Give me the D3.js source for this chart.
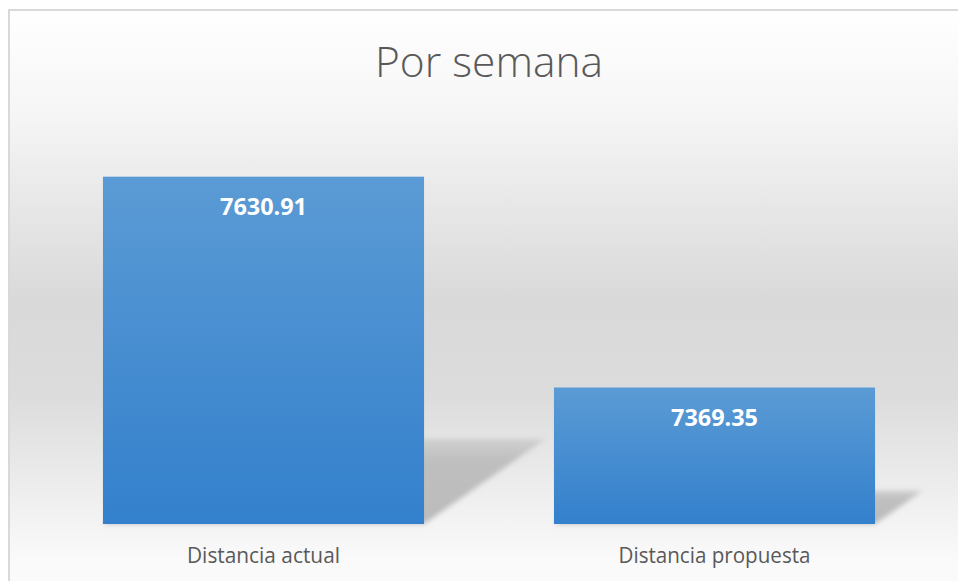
<!DOCTYPE html>
<html>
<head>
<meta charset="utf-8">
<script src="https://cdn.jsdelivr.net/npm/d3@7"></script>
<style>
  html, body { margin: 0; padding: 0; background: #fff; }
  text { font-family: "Open Sans", "Noto Sans", sans-serif; }
</style>
</head>
<body>
<div id="chart"></div>
<script>
const categories = ["Distancia actual", "Distancia propuesta"];
const values = [7630.91, 7369.35];
const yDomain = [7200, 7700];
const title = "Por semana";

const width = 958;
const height = 581;

const svg = d3
  .select("#chart")
  .append("svg")
  .attr("width", width)
  .attr("height", height);

const defs = svg.append("defs");

// chart area background gradient (white -> grey -> near white)
const bg = defs
  .append("linearGradient")
  .attr("id", "bg")
  .attr("gradientUnits", "userSpaceOnUse")
  .attr("x1", 0).attr("y1", 10)
  .attr("x2", 0).attr("y2", 560);
bg.append("stop").attr("offset", "0%").attr("stop-color", "#ffffff");
bg.append("stop").attr("offset", "18%").attr("stop-color", "#f6f6f6");
bg.append("stop").attr("offset", "53%").attr("stop-color", "#d9d9d9");
bg.append("stop").attr("offset", "70%").attr("stop-color", "#dcdcdc");
bg.append("stop").attr("offset", "100%").attr("stop-color", "#fafafa");

const barGrad = defs
  .append("linearGradient")
  .attr("id", "bar")
  .attr("x1", 0).attr("y1", 0)
  .attr("x2", 0).attr("y2", 1);
barGrad.append("stop").attr("offset", "0%").attr("stop-color", "#5b9bd5");
barGrad.append("stop").attr("offset", "100%").attr("stop-color", "#3380cc");

const shadowGrad = defs
  .append("linearGradient")
  .attr("id", "shadowGrad")
  .attr("x1", 0).attr("y1", 1)
  .attr("x2", 0).attr("y2", 0);
shadowGrad.append("stop").attr("offset", "0%").attr("stop-color", "#bbbbbb");
shadowGrad.append("stop").attr("offset", "75%").attr("stop-color", "#bfbfbf");
shadowGrad.append("stop").attr("offset", "100%").attr("stop-color", "#d0d0d0");

defs
  .append("filter")
  .attr("id", "blur")
  .attr("x", "-20%").attr("y", "-20%")
  .attr("width", "140%").attr("height", "140%")
  .append("feGaussianBlur")
  .attr("stdDeviation", 2.5);

// chart frame
svg
  .append("rect")
  .attr("x", 9)
  .attr("y", 10)
  .attr("width", 1000)
  .attr("height", 1000)
  .attr("fill", "url(#bg)")
  .attr("stroke", "#d9d9d9")
  .attr("stroke-width", 2);

// scales
const x = d3
  .scaleBand()
  .domain(categories)
  .range([38, 940])
  .paddingInner(0.288)
  .paddingOuter(0.144);

const y = d3.scaleLinear().domain(yDomain).range([524, 121]);

const data = categories.map((c, i) => ({ cat: c, value: values[i] }));

// perspective shadows
svg
  .append("g")
  .selectAll("path")
  .data(data)
  .enter()
  .append("path")
  .attr("fill", "url(#shadowGrad)")
  .attr("filter", "url(#blur)")
  .attr("d", (d) => {
    const x0 = x(d.cat);
    const x1 = x0 + x.bandwidth();
    const b = y(yDomain[0]);
    const h = b - y(d.value);
    const dx = h * 0.35;
    const dy = h * 0.245;
    return `M${x0},${b}L${x1},${b}L${x1 + dx},${b - dy}L${x0 + dx},${b - dy}Z`;
  });

// bars
svg
  .append("g")
  .selectAll("rect")
  .data(data)
  .enter()
  .append("rect")
  .attr("x", (d) => x(d.cat))
  .attr("y", (d) => y(d.value))
  .attr("width", x.bandwidth())
  .attr("height", (d) => y(yDomain[0]) - y(d.value))
  .attr("fill", "url(#bar)");

// data labels
svg
  .append("g")
  .selectAll("text")
  .data(data)
  .enter()
  .append("text")
  .attr("x", (d) => x(d.cat) + x.bandwidth() / 2)
  .attr("y", (d) => y(d.value) + 38)
  .attr("text-anchor", "middle")
  .attr("fill", "#ffffff")
  .attr("font-weight", "bold")
  .attr("font-size", 24)
  .attr("textLength", 87)
  .attr("lengthAdjust", "spacingAndGlyphs")
  .text((d) => d.value.toFixed(2));

// category axis labels
const catWidths = [153, 192];
svg
  .append("g")
  .selectAll("text")
  .data(categories)
  .enter()
  .append("text")
  .attr("x", (d) => x(d) + x.bandwidth() / 2)
  .attr("y", 563)
  .attr("text-anchor", "middle")
  .attr("fill", "#595959")
  .attr("font-size", 21)
  .attr("textLength", (d, i) => catWidths[i])
  .attr("lengthAdjust", "spacingAndGlyphs")
  .text((d) => d);

// title
svg
  .append("text")
  .attr("x", 489)
  .attr("y", 77)
  .attr("text-anchor", "middle")
  .attr("fill", "#595959")
  .attr("font-size", 42)
  .attr("font-weight", 300)
  .attr("textLength", 228)
  .attr("lengthAdjust", "spacingAndGlyphs")
  .text(title);
</script>
</body>
</html>
